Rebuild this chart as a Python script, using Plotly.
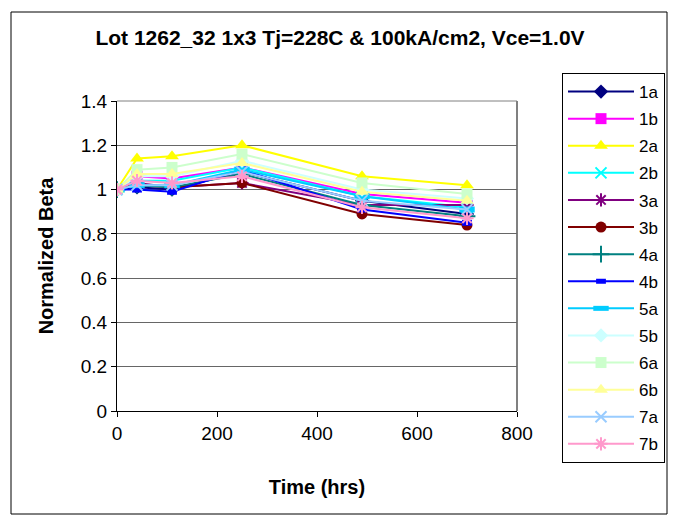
import plotly.graph_objects as go

times = [0, 40, 110, 250, 490, 700]

names = ["1a", "1b", "2a", "2b", "3a", "3b", "4a", "4b", "5a", "5b", "6a", "6b", "7a", "7b"]

s1a = [1.0, 1.01, 1.00, 1.08, 0.95, 0.89]
s1b = [1.0, 1.06, 1.05, 1.10, 0.98, 0.94]
s2a = [1.0, 1.14, 1.15, 1.20, 1.06, 1.02]
s2b = [1.0, 1.04, 1.04, 1.10, 0.97, 0.92]
s3a = [1.0, 1.03, 1.01, 1.03, 0.93, 0.93]
s3b = [1.0, 1.02, 1.01, 1.03, 0.89, 0.84]
s4a = [1.0, 1.02, 1.01, 1.07, 0.93, 0.88]
s4b = [1.0, 1.00, 0.99, 1.09, 0.91, 0.85]
s5a = [1.0, 1.02, 1.02, 1.09, 0.97, 0.91]
s5b = [1.0, 1.06, 1.06, 1.13, 1.00, 0.96]
s6a = [1.0, 1.09, 1.10, 1.16, 1.03, 0.98]
s6b = [1.0, 1.07, 1.07, 1.12, 0.99, 0.95]
s7a = [1.0, 1.02, 1.02, 1.08, 0.95, 0.91]
s7b = [1.0, 1.04, 1.03, 1.06, 0.92, 0.87]

series = [s1a, s1b, s2a, s2b, s3a, s3b, s4a, s4b, s5a, s5b, s6a, s6b, s7a, s7b]

colors = ["#000080", "#FF00FF", "#FFFF00", "#00FFFF", "#800080", "#800000", "#008080",
          "#0000FF", "#00CCFF", "#CCFFFF", "#CCFFCC", "#FFFF99", "#99CCFF", "#FF99CC"]
symbols = ["diamond", "square", "triangle-up", "x-thin", "asterisk", "circle", "cross-thin",
           "line-ew", "line-ew", "diamond", "square", "triangle-up", "x-thin", "asterisk"]
sizes = [11, 11, 12, 11, 11, 11, 12, 7, 11, 11, 11, 12, 11, 11]
mlw = [0, 0, 0, 2, 2, 0, 2, 6, 6, 0, 0, 0, 2, 2]

fig = go.Figure()
for i, (n, ys) in enumerate(zip(names, series)):
    marker = dict(symbol=symbols[i], size=sizes[i], color=colors[i])
    if mlw[i]:
        marker["line"] = dict(color=colors[i], width=mlw[i])
    else:
        marker["line"] = dict(width=0)
    fig.add_trace(go.Scatter(
        x=times, y=ys, name=n, mode="lines+markers",
        line=dict(color=colors[i], width=2), marker=marker,
        legendgroup=n,
    ))

def px_to_x(px):
    return (px - 117) / 400.0

def px_to_y(py):
    return (411 - py) / 310.0

fig.update_layout(
    width=673, height=517,
    margin=dict(l=117, r=156, t=101, b=106),
    paper_bgcolor="white", plot_bgcolor="white",
    font=dict(family="Liberation Sans, Arial, sans-serif", color="black"),
    title=dict(text="<b>Lot 1262_32 1x3 Tj=228C & 100kA/cm2, Vce=1.0V</b>",
               x=340 / 673, xanchor="center", y=1 - 38 / 517, yanchor="middle",
               font=dict(size=21)),
    xaxis=dict(range=[0, 800], dtick=200, showgrid=False, zeroline=False,
               showline=True, linecolor="black", linewidth=1,
               ticks="outside", ticklen=5, tickcolor="black",
               tickfont=dict(size=19),
               title=dict(text="<b>Time (hrs)</b>", font=dict(size=20), standoff=37)),
    yaxis=dict(range=[0, 1.4], dtick=0.2, showgrid=True, gridcolor="#666666", gridwidth=1,
               zeroline=False, showline=True, linecolor="black", linewidth=1,
               ticks="outside", ticklen=5, tickcolor="black",
               tickfont=dict(size=19), tickformat="~g",
               title=dict(text="<b>Normalized Beta</b>", font=dict(size=20), standoff=21)),
    legend=dict(xref="container", yref="container", x=562 / 673, y=1 - 73 / 517,
                xanchor="left", yanchor="top", bgcolor="white",
                bordercolor="black", borderwidth=1, font=dict(size=17),
                tracegroupgap=2, itemwidth=66, maxheight=420),
    showlegend=True,
    shapes=[
        dict(type="rect", xref="paper", yref="paper", x0=1, x1=1, y0=0, y1=1,
             line=dict(color="#808080", width=2), layer="below"),
        dict(type="line", xref="paper", yref="paper", x0=0, x1=1, y0=1, y1=1,
             line=dict(color="#808080", width=1), layer="below"),
        dict(type="rect", xref="paper", yref="paper",
             x0=px_to_x(11), x1=px_to_x(667), y0=px_to_y(514), y1=px_to_y(12),
             line=dict(color="black", width=1), layer="below"),
    ],
)

fig.write_html("out.html")
